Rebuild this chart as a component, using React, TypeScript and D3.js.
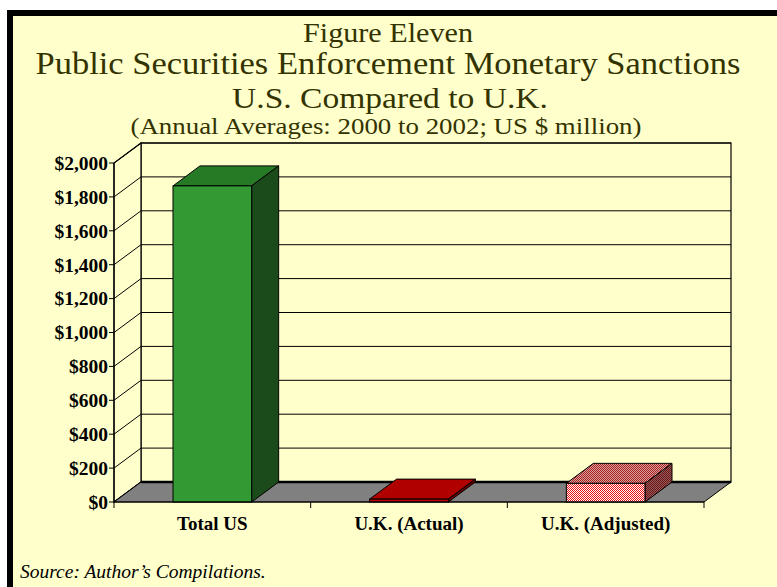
import React from "react";
import * as d3 from "d3";

const categories = ["Total US", "U.K. (Actual)", "U.K. (Adjusted)"];
const values = [1865, 17, 110];
const yTicks = [0, 200, 400, 600, 800, 1000, 1200, 1400, 1600, 1800, 2000];

const W = 777;
const H = 587;
const DX = 27;
const DY = -20;
const CREAM = "#FFFFCC";
const TXT = "#333300";

export default function App() {
  const x = d3.scaleBand<string>().domain(categories).range([114, 704]).padding(0);
  const y = d3.scaleLinear().domain([0, 2000]).range([502, 163]);
  const fmt = (v: number) => "$" + d3.format(",")(v);
  const x0 = 114, x1 = 704;
  const y0 = y(0), yTop = y(2000);
  const bw = x.bandwidth();

  const faces = [
    { front: "#339933", top: "#267A26", side: "#1B4B1B" },
    { front: "#BB0000", top: "#B00000", side: "#6A0000" },
    { front: "url(#pFront)", top: "url(#pTop)", side: "url(#pSide)" },
  ];

  return (
    <svg width={W} height={H} style={{ position: "absolute", left: 0, top: 0 }} xmlns="http://www.w3.org/2000/svg">
      <defs>
        <pattern id="pFront" width="2" height="2" patternUnits="userSpaceOnUse">
          <rect width="2" height="2" fill="#FFFFFF" />
          <rect x="0" y="0" width="1" height="1" fill="#E81010" />
          <rect x="1" y="1" width="1" height="1" fill="#E81010" />
        </pattern>
        <pattern id="pTop" width="2" height="2" patternUnits="userSpaceOnUse">
          <rect width="2" height="2" fill="#D9A0A0" />
          <rect x="0" y="0" width="1" height="1" fill="#A82020" />
          <rect x="1" y="1" width="1" height="1" fill="#A82020" />
        </pattern>
        <pattern id="pSide" width="2" height="2" patternUnits="userSpaceOnUse">
          <rect width="2" height="2" fill="#906060" />
          <rect x="0" y="0" width="1" height="1" fill="#701010" />
          <rect x="1" y="1" width="1" height="1" fill="#701010" />
        </pattern>
      </defs>
      <rect x={0} y={0} width={W} height={H} fill="#FFFFFF" />
      <rect x={10} y={13} width={W + 20} height={H + 20} fill={CREAM} stroke="#000" strokeWidth={6} />

      {/* Titles */}
      <g fontFamily="'Liberation Serif', 'Times New Roman', serif" fill={TXT} textAnchor="middle">
        <text x={388} y={42} fontSize={27} textLength={170} lengthAdjust="spacingAndGlyphs">Figure Eleven</text>
        <text x={388} y={74} fontSize={31} textLength={705} lengthAdjust="spacingAndGlyphs">Public Securities Enforcement Monetary Sanctions</text>
        <text x={390} y={108} fontSize={30} textLength={316} lengthAdjust="spacingAndGlyphs">U.S. Compared to U.K.</text>
        <text x={386} y={134} fontSize={24} textLength={511} lengthAdjust="spacingAndGlyphs">(Annual Averages: 2000 to 2002; US $ million)</text>
      </g>

      {/* Back wall */}
      <rect x={x0 + DX} y={yTop + DY} width={x1 - x0} height={y0 - yTop} fill={CREAM} stroke="#000" strokeWidth={1.2} />
      {/* Left wall */}
      <path d={`M${x0},${y0}L${x0 + DX},${y0 + DY}L${x0 + DX},${yTop + DY}L${x0},${yTop}Z`} fill={CREAM} stroke="#000" strokeWidth={1.2} />
      {/* gridlines */}
      {yTicks.map((t) => (
        <g key={t} stroke="#000" strokeWidth={1}>
          <line x1={x0 + DX} x2={x1 + DX} y1={y(t) + DY} y2={y(t) + DY} />
          <line x1={x0} x2={x0 + DX} y1={y(t)} y2={y(t) + DY} />
        </g>
      ))}
      {/* Floor */}
      <path d={`M${x0},${y0}L${x0 + DX},${y0 + DY}L${x1 + DX},${y0 + DY}L${x1},${y0}Z`} fill="#808080" stroke="#000" strokeWidth={1} />
      <line x1={x0 + DX} x2={x1 + DX} y1={y0 + DY} y2={y0 + DY} stroke="#000" strokeWidth={2.5} />

      {/* Bars */}
      {categories.map((c, i) => {
        const bx = (x(c) as number) + bw * 0.3;
        const w = bw * 0.4;
        const ty = y(values[i]);
        const f = faces[i];
        return (
          <g key={c} stroke="#000" strokeWidth={1}>
            <path d={`M${bx},${ty}L${bx + DX},${ty + DY}L${bx + w + DX},${ty + DY}L${bx + w},${ty}Z`} fill={f.top} />
            <path d={`M${bx + w},${ty}L${bx + w + DX},${ty + DY}L${bx + w + DX},${y0 + DY}L${bx + w},${y0}Z`} fill={f.side} />
            <rect x={bx} y={ty} width={w} height={y0 - ty} fill={f.front} />
          </g>
        );
      })}

      {/* Axes */}
      <line x1={x0} x2={x0} y1={yTop} y2={y0} stroke="#000" strokeWidth={1.2} />
      <line x1={x0} x2={x1} y1={y0} y2={y0} stroke="#000" strokeWidth={1.2} />
      {yTicks.map((t) => (
        <line key={"t" + t} x1={x0 - 5} x2={x0} y1={y(t)} y2={y(t)} stroke="#000" strokeWidth={1} />
      ))}
      {[...categories.map((c) => x(c) as number), x1].map((v, i) => (
        <line key={"c" + i} x1={v} x2={v} y1={y0} y2={y0 + 6} stroke="#000" strokeWidth={1} />
      ))}
      <g fontFamily="'Liberation Serif', 'Times New Roman', serif" fontWeight="bold" fill="#000">
        {yTicks.map((t) => (
          <text key={"l" + t} x={x0 - 6} y={y(t)} dy="0.35em" textAnchor="end" fontSize={19.5}>{fmt(t)}</text>
        ))}
        {categories.map((c) => (
          <text key={"cl" + c} x={(x(c) as number) + bw / 2} y={530} textAnchor="middle" fontSize={19}>{c}</text>
        ))}
      </g>
      <text x={20} y={578} fontFamily="'Liberation Serif', 'Times New Roman', serif" fontStyle="italic" fontSize={19.5} fill="#000">Source: Author’s Compilations.</text>
    </svg>
  );
}
